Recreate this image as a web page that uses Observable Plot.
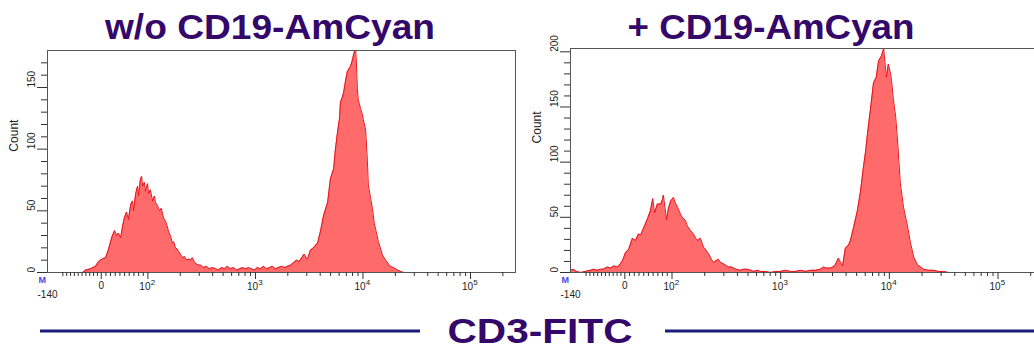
<!DOCTYPE html>
<html><head><meta charset="utf-8">
<script src="https://cdn.jsdelivr.net/npm/d3@7"></script>
<script src="https://cdn.jsdelivr.net/npm/@observablehq/plot@0.6"></script>
<style>
html,body{margin:0;padding:0;background:#fff;overflow:hidden;}
#wrap{position:relative;width:1034px;height:349px;overflow:hidden;font-family:"Liberation Sans",Arial,sans-serif;}
#left{position:absolute;left:0;top:0;width:530px;height:310px;}
#right{position:absolute;left:523px;top:0;width:530px;height:310px;}
#left svg,#right svg{max-width:none !important;}
#overlay{position:absolute;left:0;top:0;pointer-events:none;}
</style></head>
<body><div id="wrap"><div id="left"></div><div id="right"></div>
<svg id="overlay" width="1034" height="349" font-family="Liberation Sans, Arial, sans-serif">
  <text x="270" y="39" text-anchor="middle" font-size="35" font-weight="bold" fill="#34086a" textLength="330" lengthAdjust="spacingAndGlyphs">w/o CD19-AmCyan</text>
  <text x="771" y="39" text-anchor="middle" font-size="35" font-weight="bold" fill="#34086a" textLength="287" lengthAdjust="spacingAndGlyphs">+ CD19-AmCyan</text>
  <line x1="40" x2="420" y1="331" y2="331" stroke="#1c1c7a" stroke-width="3"/>
  <line x1="665" x2="1034" y1="331" y2="331" stroke="#1c1c7a" stroke-width="3"/>
  <text x="540" y="343" text-anchor="middle" font-size="35" font-weight="bold" fill="#34086a" textLength="185" lengthAdjust="spacingAndGlyphs">CD3-FITC</text>
</svg></div>
<script>
// ---- data: histogram channels (0..1024 display channels) and counts ----
const leftChannels = [77,83,94,105,112,120,127,133,138,142,147,151,155,160,164,168,173,177,182,186,188,193,197,199,203,206,208,212,214,219,221,225,230,234,236,241,245,249,254,258,263,265,269,273,276,280,284,287,291,295,300,304,309,313,317,322,326,330,335,341,348,354,361,368,374,381,387,394,400,407,414,420,427,433,440,446,453,459,466,473,479,486,492,499,505,512,519,525,532,538,545,551,558,562,567,571,575,582,591,597,604,613,619,626,630,635,639,641,645,648,652,656,661,663,667,670,674,676,678,680,685,689,691,696,700,702,707,711,715,718,724,729,733,740,746,750,757,766,772,779];
const leftCounts = [0,2,3,5,9,11,12,18,25,30,34,30,32,28,37,44,49,43,55,58,50,64,70,62,75,78,70,73,66,72,64,67,58,62,57,54,50,52,44,42,36,33,30,24,25,20,19,17,15,12,13,10,11,10,12,8,7,6,6,4,5,3,4,3,2,4,3,5,3,4,2,3,4,3,4,3,2,4,3,5,3,4,5,3,4,5,4,5,6,8,10,9,13,15,11,13,18,20,24,33,46,57,76,84,100,115,125,138,142,146,155,163,166,167,172,177,182,170,149,140,133,128,124,116,90,71,60,52,40,35,25,19,14,10,7,5,4,2,1,0];
const rightChannels = [0,6,13,22,32,43,50,58,65,71,80,87,93,102,104,108,113,119,126,130,134,141,147,152,156,162,167,173,178,182,188,195,199,201,208,212,217,223,227,232,238,242,249,253,260,266,271,275,281,288,294,299,305,310,316,320,325,331,338,342,349,353,359,368,375,383,390,396,405,411,422,433,444,455,465,476,487,498,509,520,530,541,548,554,563,572,580,585,589,595,602,606,613,621,628,634,639,643,650,656,662,667,673,678,682,684,688,693,695,699,704,708,714,721,730,736,743,751,758,764,775,786,797,808,818];
const rightCounts = [2,3,1,0,1,2,3,2,3,3,5,4,6,5,6,8,11,18,21,26,31,29,35,34,38,44,49,56,67,54,62,62,66,70,48,58,65,68,63,59,53,50,47,42,38,35,31,29,31,23,20,17,12,9,11,12,9,8,6,5,5,4,3,2,3,3,2,1,2,1,1,0,1,1,2,1,1,2,1,2,2,3,5,4,4,6,13,9,6,22,25,29,41,56,74,95,110,126,150,172,177,192,196,203,185,177,189,180,174,157,141,120,81,59,41,27,14,7,5,3,2,2,1,1,0];

// ---- axis ticks (fluorescence values) and labels ----
const xDecadeValues = [100, 1000, 10000, 100000];
const xDecadeExponents = ["2", "3", "4", "5"];
const xZeroValue = 0;
const xMajorTicks = [0, 100, 1000, 10000, 100000];
const xMinorTicks = [-100,-90,-80,-70,-60,-50,-40,-30,-20,-10,10,20,30,40,50,60,70,80,90,
  200,300,400,500,600,700,800,900,2000,3000,4000,5000,6000,7000,8000,9000,
  20000,30000,40000,50000,60000,70000,80000,90000,200000];
const xMinValue = -140, xMaxValue = 262144;
const leftYMax = 180, rightYMax = 203;
const leftYMajor = [0, 50, 100, 150];
const leftYMinor = [10,20,30,40,60,70,80,90,110,120,130,140,160,170];
const rightYMajor = [0, 50, 100, 150, 200];
const rightYMinor = [10,20,30,40,60,70,80,90,110,120,130,140,160,170,180,190];

// biexponential-like display transform: log above 100, linear near zero
function g(v) {
  const sPos = 1 / (100 * Math.LN10);
  const g0 = 2 - 100 * sPos;
  if (v >= 100) return Math.log10(v);
  if (v >= 0) return 2 + (v - 100) * sPos;
  return g0 + v * 0.00357;
}
const chan = v => (g(v) - g(xMinValue)) / (g(xMaxValue) - g(xMinValue)) * 1024;

function panel(channels, counts, yMax, yMajor, yMinor, opts) {
  const data = channels.map((c, i) => ({c, n: counts[i]}));
  const decades = xDecadeValues.map((v, i) => ({v, e: xDecadeExponents[i]}));
  return Plot.plot({
    width: 530, height: 310,
    marginLeft: 47, marginRight: opts.marginRight, marginTop: opts.marginTop, marginBottom: 38,
    style: {fontFamily: "Liberation Sans, Arial, sans-serif", fontSize: "10px", background: "transparent", overflow: "visible", color: "#222", maxWidth: "none"},
    x: {type: "linear", domain: [0, 1024]},
    y: {domain: [0, yMax]},
    marks: [
      Plot.areaY(data, {x: "c", y: "n", fill: "#ff6a6a", curve: "linear", clip: true}),
      Plot.lineY(data, {x: "c", y: "n", stroke: "#e4141c", strokeWidth: 1, curve: "linear", clip: true}),
      Plot.frame({stroke: "#555", strokeWidth: 1}),
      Plot.axisX(xMinorTicks.map(chan), {tickSize: 4, tickFormat: () => "", label: null, stroke: "#333"}),
      Plot.axisX(xMajorTicks.map(chan), {tickSize: 7, tickFormat: () => "", label: null, stroke: "#333"}),
      Plot.text(decades, {x: d => chan(d.v), text: () => "10", frameAnchor: "bottom", dy: 17, dx: -3, fontSize: 10, fill: "#222"}),
      Plot.text(decades, {x: d => chan(d.v), text: "e", frameAnchor: "bottom", dy: 12, dx: 5, fontSize: 8, fill: "#222"}),
      Plot.text([xZeroValue], {x: d => chan(d), text: d => String(d), frameAnchor: "bottom", dy: 16, fontSize: 10, fill: "#222"}),
      Plot.text([xMinValue], {x: d => chan(d), text: d => String(d), frameAnchor: "bottom", dy: 25, fontSize: 10, fill: "#222"}),
      Plot.text(["M"], {frameAnchor: "bottom-left", dx: -9, dy: 10, fill: "#4848e0", fontSize: 9, fontWeight: "bold"}),
      Plot.axisY(yMinor, {tickSize: 6, tickFormat: () => "", label: null, stroke: "#333"}),
      Plot.axisY(yMajor, {tickSize: 10, tickFormat: () => "", label: null, stroke: "#333"}),
      Plot.text(yMajor, {y: d => d, text: d => String(d), frameAnchor: "left", rotate: -90, dx: -16, fontSize: 10, fill: "#222"}),
      Plot.text(["Count"], {y: () => opts.countY, text: d => d, frameAnchor: "left", rotate: -90, dx: -33, fontSize: 12, fill: "#222"})
    ]
  });
}

document.getElementById("left").append(panel(leftChannels, leftCounts, leftYMax, leftYMajor, leftYMinor,
  {marginRight: 15, marginTop: 50, countY: 98}));
document.getElementById("right").append(panel(rightChannels, rightCounts, rightYMax, rightYMajor, rightYMinor,
  {marginRight: 10, marginTop: 48, countY: 117}));
</script>
</body></html>
